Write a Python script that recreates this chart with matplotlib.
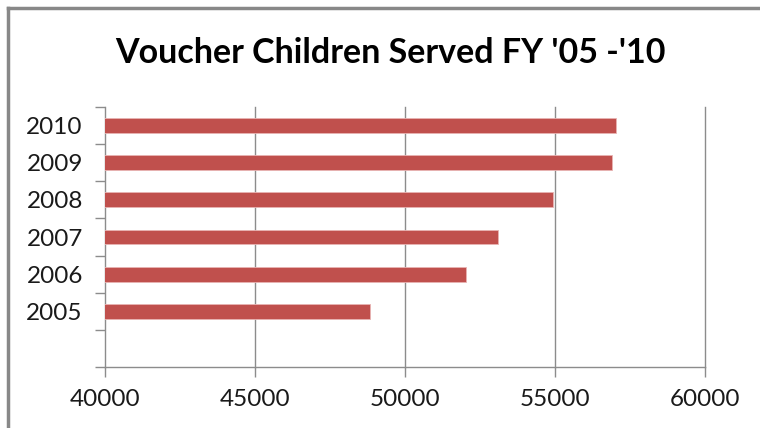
import matplotlib
matplotlib.use('Agg')
import matplotlib.pyplot as plt
from matplotlib.lines import Line2D

years = ['2005', '2006', '2007', '2008', '2009', '2010']
children = [48820, 52040, 53100, 54930, 56910, 57030]
x_ticks = [40000, 45000, 50000, 55000, 60000]

BAR = '#C0504D'
GRID = '#8C8C8C'

fig = plt.figure(figsize=(7.6, 4.28), dpi=100)
ax = fig.add_axes([105 / 760, 1 - 367 / 428, 600 / 760, 260 / 428])

# slot 0 is left empty, like the blank row in the original sheet
pos = list(range(1, len(years) + 1))
ax.barh(pos, children, height=0.4, color=BAR, edgecolor='#E8B4B3', linewidth=0.6, zorder=3)

ax.set_xlim(40000, 60000)
ax.set_ylim(-0.5, len(years) + 0.5)
ax.set_xticks(x_ticks)
ax.set_xticklabels([str(v) for v in x_ticks])

# boundary ticks (major), labels on minor ticks
ax.set_yticks([p - 0.5 for p in range(len(years) + 2)])
ax.set_yticklabels([])
ax.set_yticks(pos, minor=True)
ax.set_yticklabels(years, minor=True)
ax.tick_params(axis='y', which='major', length=7, color=GRID, width=1)
ax.tick_params(axis='y', which='minor', length=0, pad=16)
ax.tick_params(axis='x', length=7, color=GRID, width=1, pad=9)

for lab in ax.get_xticklabels() + ax.get_yticklabels(minor=True):
    lab.set_fontfamily('Lato')
    lab.set_fontsize(17.5)
    lab.set_color('#1a1a1a')

# vertical gridlines, not clipped so the 60000 line shows in full
for v in x_ticks[1:]:
    ax.axvline(v, color=GRID, linewidth=1, zorder=0, clip_on=False)
for s in ['top', 'right']:
    ax.spines[s].set_visible(False)
for s in ['left', 'bottom']:
    ax.spines[s].set_color(GRID)
    ax.spines[s].set_linewidth(1)

fig.text(390 / 760, 1 - 53 / 428, "Voucher Children Served FY '05 -'10",
         ha='center', va='center', fontsize=24.5, fontweight='bold',
         fontfamily='Lato', color='black')

# chart border (runs off the right and bottom edges)
fig.add_artist(Line2D([8 / 760, 1.01], [1 - 8 / 428] * 2, color='#888888', lw=2.5,
                      transform=fig.transFigure))
fig.add_artist(Line2D([8 / 760] * 2, [-0.01, 1 - 8 / 428], color='#888888', lw=2.5,
                      transform=fig.transFigure))

fig.savefig('out.png', dpi=100)
